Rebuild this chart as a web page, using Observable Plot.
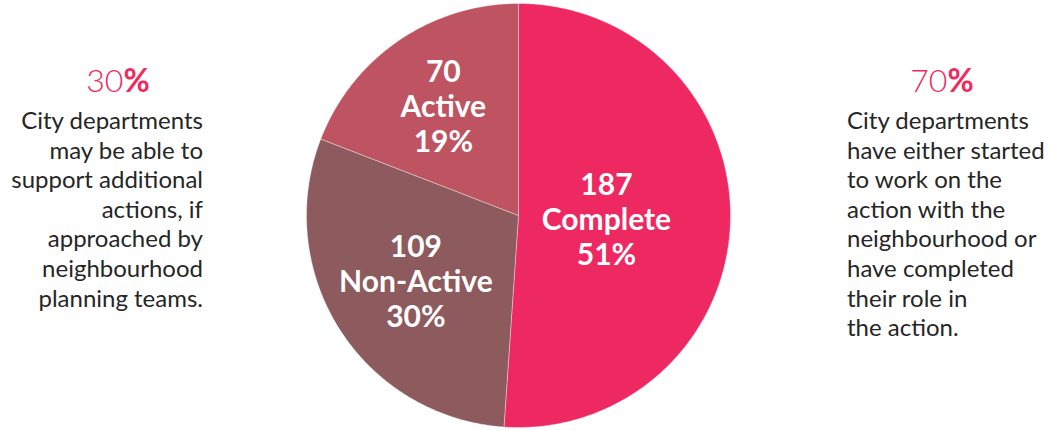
<!DOCTYPE html>
<html>
<head>
<meta charset="utf-8">
<script src="https://cdn.jsdelivr.net/npm/d3@7"></script>
<script src="https://cdn.jsdelivr.net/npm/@observablehq/plot@0.6"></script>
<style>
  html, body { margin: 0; padding: 0; background: #fff; }
  #wrap { position: relative; width: 1048px; height: 430px; overflow: hidden; }
  #chart { position: absolute; left: 0; top: 0; }
  .head { position: absolute; width: 140px; text-align: center; color: #EE2A5E; font-family: Lato, "Open Sans", sans-serif; font-size: 32px; line-height: 34px; }
  .head .n { font-weight: 300; }
  .head .p { font-weight: 700; }
  .body { position: absolute; color: #262626; font-family: Lato, "Open Sans", sans-serif; font-size: 24px; line-height: 29.6px; white-space: nowrap; }
</style>
</head>
<body>
<div id="wrap">
  <div id="chart"></div>
  <div class="head" id="headL" style="left:48px; top:63px;"></div>
  <div class="body" id="bodyL" style="right:845px; top:105px; text-align:right;"></div>
  <div class="head" id="headR" style="left:872px; top:63px;"></div>
  <div class="body" id="bodyR" style="left:847px; top:105px; text-align:left;"></div>
</div>
<script>
// ---- data ----
const categories = ["Complete", "Non-Active", "Active"];
const counts = [187, 109, 70];
const colors = ["#EE2860", "#8D5A5E", "#BE5461"];
const sideShares = ["30", "70"];
const leftLines = ["City departments", "may be able to", "support additional", "actions, if", "approached by", "neighbourhood", "planning teams."];
const rightLines = ["City departments", "have either started", "to work on the", "action with the", "neighbourhood or", "have completed", "their role in", "the action."];

// ---- pie geometry (unit circle, angle clockwise from 12 o'clock) ----
const total = d3.sum(counts);
const arcs = d3.pie().sort(null).value(d => d)(counts);
const slicePts = [];
arcs.forEach((a, i) => {
  const cat = categories[i];
  slicePts.push({cat, x: 0, y: 0});
  const steps = Math.max(2, Math.ceil((a.endAngle - a.startAngle) / 0.01));
  for (let s = 0; s <= steps; s++) {
    const t = a.startAngle + (a.endAngle - a.startAngle) * s / steps;
    slicePts.push({cat, x: Math.sin(t), y: Math.cos(t)});
  }
  slicePts.push({cat, x: 0, y: 0});
});
// labels at each sector's area centroid
const labels = arcs.map((a, i) => {
  const m = (a.startAngle + a.endAngle) / 2;
  const half = (a.endAngle - a.startAngle) / 2;
  const r = (2 / 3) * Math.sin(half) / half;
  return {
    x: r * Math.sin(m),
    y: r * Math.cos(m),
    text: `${counts[i]}\n${categories[i]}\n${Math.round(counts[i] / total * 100)}%`
  };
});

const chart = Plot.plot({
  width: 1048,
  height: 430,
  margin: 0,
  x: {domain: [-1, 1], range: [306, 730], axis: null},
  y: {domain: [-1, 1], range: [427, 3], axis: null},
  color: {domain: categories, range: colors},
  marks: [
    Plot.line(slicePts, {x: "x", y: "y", z: "cat", fill: "cat", stroke: "white", strokeWidth: 0.6, strokeOpacity: 0.6}),
    Plot.text(labels, {x: "x", y: "y", text: "text", fill: "white", fontSize: 30, fontWeight: "bold", lineHeight: 1.17, fontFamily: "Lato, 'Open Sans', sans-serif"})
  ]
});
document.getElementById("chart").appendChild(chart);

function head(el, n) {
  el.innerHTML = `<span class="n">${n}</span><span class="p">%</span>`;
}
head(document.getElementById("headL"), sideShares[0]);
head(document.getElementById("headR"), sideShares[1]);
document.getElementById("bodyL").innerHTML = leftLines.join("<br>");
document.getElementById("bodyR").innerHTML = rightLines.join("<br>");
</script>
</body>
</html>
